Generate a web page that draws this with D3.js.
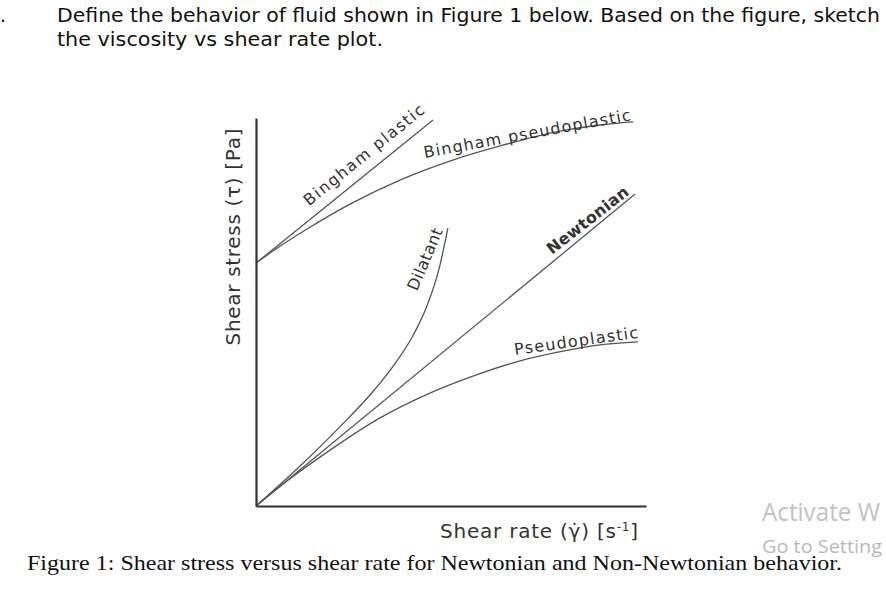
<!DOCTYPE html>
<html><head><meta charset="utf-8">
<script src="https://cdn.jsdelivr.net/npm/d3@7"></script>
<style>html,body{margin:0;padding:0;background:#fff;overflow:hidden}</style>
</head><body>
<svg id="c" width="886" height="591"></svg>
<script>
// ---- data (arbitrary units, 0..100 on each axis) ----
const pseudoX    = [0, 8.7, 19.0, 31.8, 44.6, 54.9, 65.9, 78.7, 88.2, 97.9];
const pseudoY    = [0, 7.0, 14.4, 22.7, 29.1, 33.2, 36.9, 39.9, 41.5, 42.3];
const newtonX    = [0, 97.2];
const newtonY    = [0, 80.4];
const dilatantX  = [0, 11.3, 21.5, 30.0, 35.5, 40.3, 44.0, 46.9, 49.2];
const dilatantY  = [0, 10.3, 20.4, 29.5, 36.5, 44.0, 52.0, 61.0, 71.6];
const binghamX   = [0, 45.4];
const binghamY   = [62.6, 99.5];
const bPseudoX   = [0, 6.2, 13.1, 24.1, 36.9, 49.7, 62.6, 77.9, 88.2, 96.7];
const bPseudoY   = [62.6, 67.0, 71.4, 77.8, 84.0, 88.9, 92.8, 96.6, 98.2, 99.0];
const curveNames = ["Bingham plastic", "Bingham pseudoplastic", "Dilatant", "Newtonian", "Pseudoplastic"];
const xTitle = "Shear rate (γ̇) [s";
const yTitle = "Shear stress (τ) [Pa]";
const header1 = "Define the behavior of fluid shown in Figure 1 below. Based on the figure, sketch";
const header2 = "the viscosity vs shear rate plot.";
const caption = "Figure 1: Shear stress versus shear rate for Newtonian and Non-Newtonian behavior.";
const watermark1 = "Activate W";
const watermark2 = "Go to Setting";

const svg = d3.select("#c");
const x = d3.scaleLinear().domain([0, 100]).range([256, 646]);
const y = d3.scaleLinear().domain([0, 100]).range([506, 118]);

// header
svg.append("text").attr("x", 0).attr("y", 22).attr("font-family", "DejaVu Sans").attr("font-size", 19).attr("fill", "#111").text(".");
svg.append("text").attr("x", 57).attr("y", 22).attr("font-family", "DejaVu Sans").attr("font-size", 19.5)
  .attr("fill", "#111").attr("textLength", 823).attr("lengthAdjust", "spacingAndGlyphs").text(header1);
svg.append("text").attr("x", 57).attr("y", 46).attr("font-family", "DejaVu Sans").attr("font-size", 19.5)
  .attr("fill", "#111").attr("textLength", 326).attr("lengthAdjust", "spacingAndGlyphs").text(header2);

// curves
const line = d3.line().x(d => x(d[0])).y(d => y(d[1])).curve(d3.curveMonotoneX);
const series = [
  d3.zip(binghamX, binghamY),
  d3.zip(bPseudoX, bPseudoY),
  d3.zip(dilatantX, dilatantY),
  d3.zip(newtonX, newtonY),
  d3.zip(pseudoX, pseudoY)
];
svg.append("g").selectAll("path").data(series).join("path")
  .attr("d", line).attr("fill", "none").attr("stroke", "#555").attr("stroke-width", 1.3);

// axes
const gx = svg.append("g").attr("transform", `translate(0,${y(0)})`)
  .call(d3.axisBottom(x).ticks(0).tickSizeOuter(0));
const gy = svg.append("g").attr("transform", `translate(${x(0)},0)`)
  .call(d3.axisLeft(y).ticks(0).tickSizeOuter(0));
[gx, gy].forEach(g => g.select(".domain").attr("stroke", "#333").attr("stroke-width", 2.2));

// curve labels (anchor in data units, rotation, length)
const labelLayout = [
  {ax: 13.6,  ay: 77.2, rot: -39,  len: 150, w: "normal"},
  {ax: 43.3,  ay: 89.7, rot: -10.4, len: 210, w: "normal"},
  {ax: 41.3,  ay: 55.2, rot: -67,  len: 66,  w: "normal"},
  {ax: 75.9,  ay: 64.7, rot: -38,  len: 99,  w: "bold"},
  {ax: 66.4,  ay: 38.9, rot: -8,   len: 125, w: "normal"}
];
svg.append("g").selectAll("text").data(curveNames).join("text")
  .attr("transform", (d, i) => `translate(${x(labelLayout[i].ax)},${y(labelLayout[i].ay)}) rotate(${labelLayout[i].rot})`)
  .attr("font-family", "DejaVu Sans").attr("font-size", 16).attr("fill", "#333")
  .attr("font-weight", (d, i) => labelLayout[i].w)
  .attr("textLength", (d, i) => labelLayout[i].len).attr("lengthAdjust", "spacing")
  .text(d => d);

// axis titles
const xt = svg.append("text").attr("x", 440).attr("y", 538).attr("font-family", "DejaVu Sans")
  .attr("font-size", 20).attr("fill", "#333").attr("textLength", 198).attr("lengthAdjust", "spacing");
xt.append("tspan").text(xTitle);
xt.append("tspan").attr("font-size", 12).attr("dy", -7).text("-1");
xt.append("tspan").attr("dy", 7).text("]");

svg.append("text").attr("transform", "translate(240,237) rotate(-90)").attr("text-anchor", "middle")
  .attr("font-family", "DejaVu Sans").attr("font-size", 20).attr("fill", "#333")
  .attr("textLength", 217).attr("lengthAdjust", "spacing").text(yTitle);

// caption
svg.append("text").attr("x", 27).attr("y", 570).attr("font-family", "Liberation Serif").attr("font-size", 21)
  .attr("fill", "#111").attr("textLength", 815).attr("lengthAdjust", "spacingAndGlyphs").text(caption);

// watermark
svg.append("text").attr("x", 762).attr("y", 521).attr("font-family", "Open Sans").attr("font-size", 26)
  .attr("fill", "#c2c2c2").attr("textLength", 118).attr("lengthAdjust", "spacingAndGlyphs").text(watermark1);
svg.append("text").attr("x", 762).attr("y", 553).attr("font-family", "Open Sans").attr("font-size", 19)
  .attr("fill", "#b8b8b8").attr("textLength", 120).attr("lengthAdjust", "spacingAndGlyphs").text(watermark2);
</script>
</body></html>
